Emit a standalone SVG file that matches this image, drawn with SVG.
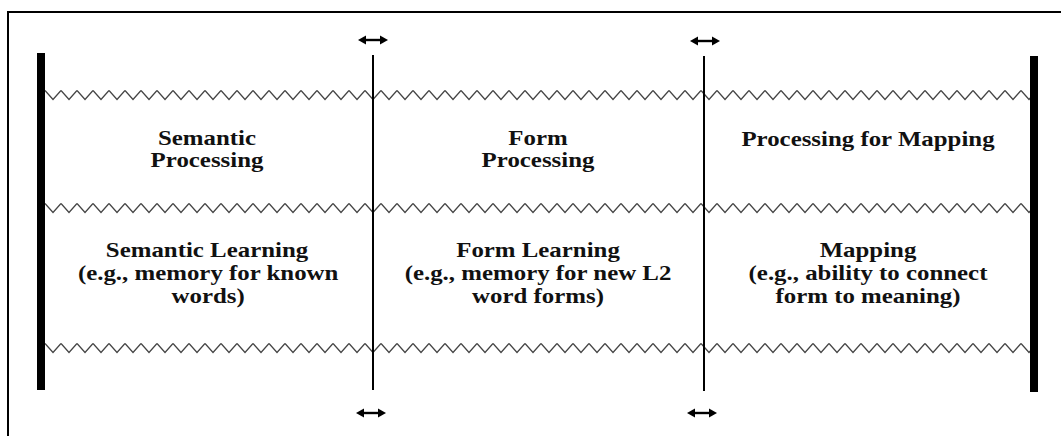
<svg xmlns="http://www.w3.org/2000/svg" width="1061" height="436" viewBox="0 0 1061 436">
  <style>
    .lbl { font-family: "Liberation Serif", "Times New Roman", serif; font-weight: bold; font-size: 22px; fill: #111; text-anchor: middle; }
    .bar { fill: #000; }
    .divider { stroke: #000; stroke-width: 2; fill: none; }
    .shaft { stroke: #000; stroke-width: 2.4; fill: none; }
    .tip { fill: #000; }
    .wave { stroke: none; fill: url(#zigzag); }
  </style>
  <defs>
    <!-- one tooth of the wavy row boundary, tiled horizontally -->
    <pattern id="zigzag" patternUnits="userSpaceOnUse" x="45" y="0" width="16" height="436">
      <path d="M0,90.5 L8,99.5 L16,90.5 M0,203.5 L8,212.5 L16,203.5 M0,343.5 L8,352.5 L16,343.5" stroke="#444" stroke-width="1.3" fill="none"/>
    </pattern>
    <!-- double-headed horizontal arrow, centred on the origin -->
    <g id="dbl-arrow">
      <line class="shaft" x1="-9" y1="0" x2="9" y2="0"/>
      <path class="tip" d="M-15,0 L-7,-4.6 L-7,4.6 Z"/>
      <path class="tip" d="M15,0 L7,-4.6 L7,4.6 Z"/>
    </g>
  </defs>

  <rect width="1061" height="436" fill="#fff"/>

  <!-- outer frame -->
  <rect x="8" y="12" width="1070" height="440" fill="none" stroke="#000" stroke-width="2"/>

  <!-- table structure -->
  <g id="grid">
    <rect class="bar" x="37" y="53" width="8" height="337"/>
    <rect class="bar" x="1030" y="56" width="8" height="336"/>
    <rect class="wave" x="45" y="88" width="985" height="14"/>
    <rect class="wave" x="45" y="201" width="985" height="14"/>
    <rect class="wave" x="45" y="341" width="985" height="14"/>
    <line class="divider" x1="373" y1="55" x2="373" y2="390"/>
    <line class="divider" x1="704" y1="56" x2="704" y2="391"/>
  </g>

  <!-- cells (text widened to the proportions of the book face) -->
  <g id="semantic-processing" transform="translate(207,0) scale(1.13,1)">
    <text class="lbl" x="0" y="145">Semantic</text>
    <text class="lbl" x="0" y="167">Processing</text>
  </g>
  <g id="form-processing" transform="translate(538,0) scale(1.13,1)">
    <text class="lbl" x="0" y="145">Form</text>
    <text class="lbl" x="0" y="167">Processing</text>
  </g>
  <g id="processing-for-mapping" transform="translate(868,0) scale(1.13,1)">
    <text class="lbl" x="0" y="146">Processing for Mapping</text>
  </g>
  <g id="semantic-learning" transform="translate(207,0) scale(1.13,1)">
    <text class="lbl" x="0" y="257">Semantic Learning</text>
    <text class="lbl" x="1" y="280">(e.g., memory for known</text>
    <text class="lbl" x="1" y="303">words)</text>
  </g>
  <g id="form-learning" transform="translate(538,0) scale(1.13,1)">
    <text class="lbl" x="0" y="257">Form Learning</text>
    <text class="lbl" x="0" y="280">(e.g., memory for new L2</text>
    <text class="lbl" x="0" y="303">word forms)</text>
  </g>
  <g id="mapping" transform="translate(868,0) scale(1.13,1)">
    <text class="lbl" x="0" y="257">Mapping</text>
    <text class="lbl" x="0" y="280">(e.g., ability to connect</text>
    <text class="lbl" x="0" y="303">form to meaning)</text>
  </g>

  <!-- double-headed arrows at the ends of the dividers -->
  <g id="connectors">
    <use href="#dbl-arrow" x="373" y="40"/>
    <use href="#dbl-arrow" x="705" y="41"/>
    <use href="#dbl-arrow" x="371" y="413"/>
    <use href="#dbl-arrow" x="702" y="413"/>
  </g>
</svg>
